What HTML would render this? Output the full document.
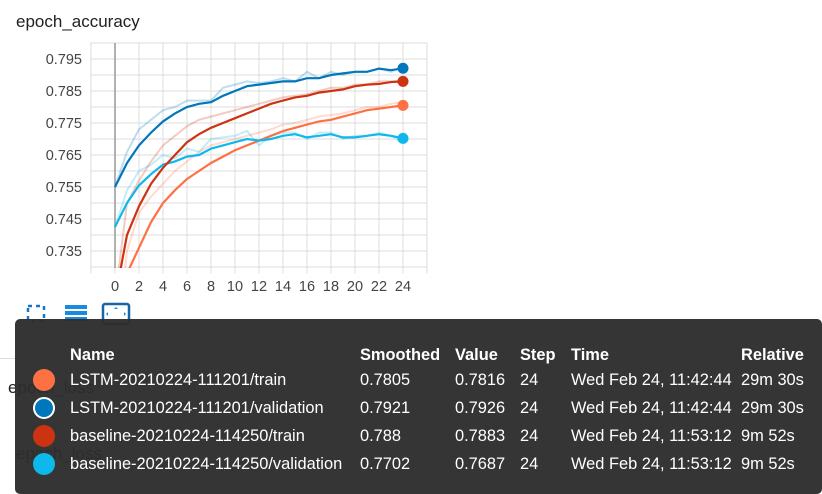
<!DOCTYPE html>
<html><head><meta charset="utf-8"><style>
body{margin:0;width:822px;height:488px;overflow:hidden;background:#fff;font-family:"Liberation Sans",sans-serif;position:relative}
.abs{position:absolute}
#tip{position:absolute;left:15px;top:319px;width:807px;height:175px;background:rgba(45,45,45,0.96);border-radius:5px;color:#fff;font-size:16.4px}
#tip div{position:absolute;white-space:nowrap}
.h{font-weight:bold}
.dot{width:22px;height:22px;border-radius:50%}
</style></head><body>
<div class="abs" style="left:16px;top:12px;font-size:17px;color:#212121">epoch_accuracy</div>
<div class="abs" style="left:0;top:358px;width:822px;height:1px;background:#ddd"></div>
<div class="abs" style="left:8px;top:378px;font-size:17px;color:#212121">epoch_loss</div>
<div class="abs" style="left:16px;top:444px;font-size:17px;color:#212121">epoch_loss</div>
<svg class="abs" style="left:0;top:0" width="822" height="330">
<g id="grid"></g><g id="ticks"></g>
<clipPath id="cp"><rect x="90" y="43" width="337" height="225"/></clipPath>
<g id="lines" clip-path="url(#cp)"></g><g id="dots"></g>
<g fill="none" stroke="#1a73c8" stroke-width="2.5" stroke-dasharray="4 4">
<rect x="28" y="306" width="16" height="15"/></g>
<g fill="#1a8ae0"><rect x="65" y="305" width="22" height="4"/><rect x="65" y="311" width="22" height="4"/><rect x="65" y="317" width="22" height="4"/></g>
<g><rect x="103" y="304" width="26" height="20" rx="2" fill="none" stroke="#1566a8" stroke-width="2.5"/><path d="M116 307l-2 2h4zM116 321l-2-2h4zM106 314l2-2v4zM126 314l-2-2v4z" fill="#1a8ae0"/></g>
</svg>
<div id="tip">
<div class="h" style="left:55px;top:27px">Name</div><div class="h" style="left:345px;top:27px">Smoothed</div><div class="h" style="left:440px;top:27px">Value</div><div class="h" style="left:505px;top:27px">Step</div><div class="h" style="left:556px;top:27px">Time</div><div class="h" style="left:726px;top:27px">Relative</div>
<div class="dot" style="left:18px;top:50px;background:#ff7043"></div>
<div style="left:55px;top:52px">LSTM-20210224-111201/train</div><div style="left:345px;top:52px">0.7805</div><div style="left:440px;top:52px">0.7816</div><div style="left:505px;top:52px">24</div><div style="left:556px;top:52px">Wed Feb 24, 11:42:44</div><div style="left:726px;top:52px">29m 30s</div>
<div class="dot" style="left:18px;top:78px;background:#0077bb;box-sizing:border-box;border:2px solid #fff"></div>
<div style="left:55px;top:80px">LSTM-20210224-111201/validation</div><div style="left:345px;top:80px">0.7921</div><div style="left:440px;top:80px">0.7926</div><div style="left:505px;top:80px">24</div><div style="left:556px;top:80px">Wed Feb 24, 11:42:44</div><div style="left:726px;top:80px">29m 30s</div>
<div class="dot" style="left:18px;top:106px;background:#cc3311"></div>
<div style="left:55px;top:108px">baseline-20210224-114250/train</div><div style="left:345px;top:108px">0.788</div><div style="left:440px;top:108px">0.7883</div><div style="left:505px;top:108px">24</div><div style="left:556px;top:108px">Wed Feb 24, 11:53:12</div><div style="left:726px;top:108px">9m 52s</div>
<div class="dot" style="left:18px;top:134px;background:#0fb8ea"></div>
<div style="left:55px;top:136px">baseline-20210224-114250/validation</div><div style="left:345px;top:136px">0.7702</div><div style="left:440px;top:136px">0.7687</div><div style="left:505px;top:136px">24</div><div style="left:556px;top:136px">Wed Feb 24, 11:53:12</div><div style="left:726px;top:136px">9m 52s</div>
</div>
<script>
const epochs=[...Array(25).keys()];
const yTicks=[0.735,0.745,0.755,0.765,0.775,0.785,0.795];
const xTicks=[0,2,4,6,8,10,12,14,16,18,20,22,24];
const lstmValSmooth=[0.755,0.7625,0.768,0.772,0.7755,0.778,0.780,0.781,0.7815,0.7835,0.785,0.7865,0.787,0.7875,0.788,0.788,0.789,0.789,0.790,0.7905,0.791,0.791,0.792,0.7915,0.7921];
const lstmValRaw=[0.755,0.766,0.773,0.776,0.779,0.780,0.782,0.782,0.782,0.786,0.787,0.788,0.7875,0.788,0.789,0.788,0.791,0.789,0.791,0.790,0.791,0.791,0.792,0.791,0.7926];
const baseTrainSmooth=[0.72,0.740,0.749,0.756,0.761,0.765,0.769,0.7715,0.7735,0.775,0.7765,0.778,0.7795,0.781,0.782,0.783,0.7835,0.7845,0.785,0.7855,0.7865,0.787,0.7872,0.7878,0.788];
const baseTrainRaw=[0.72,0.750,0.757,0.763,0.768,0.771,0.774,0.776,0.777,0.778,0.779,0.780,0.781,0.782,0.783,0.7835,0.784,0.785,0.786,0.786,0.787,0.787,0.788,0.788,0.7883];
const lstmTrainSmooth=[0.70,0.728,0.736,0.744,0.750,0.754,0.7575,0.760,0.7625,0.7645,0.7665,0.768,0.7695,0.771,0.7725,0.7735,0.7745,0.7755,0.776,0.777,0.778,0.779,0.7795,0.780,0.7805];
const lstmTrainRaw=[0.70,0.735,0.747,0.752,0.756,0.760,0.763,0.766,0.768,0.769,0.770,0.771,0.772,0.773,0.7745,0.775,0.776,0.777,0.7775,0.778,0.779,0.780,0.780,0.781,0.7816];
const baseValSmooth=[0.7425,0.750,0.7555,0.759,0.762,0.763,0.7645,0.765,0.767,0.768,0.769,0.770,0.7695,0.770,0.771,0.7715,0.7705,0.771,0.7715,0.7705,0.7705,0.771,0.7715,0.771,0.7702];
const baseValRaw=[0.7425,0.754,0.760,0.762,0.765,0.764,0.767,0.766,0.770,0.7705,0.771,0.7725,0.768,0.771,0.772,0.772,0.770,0.772,0.772,0.770,0.771,0.771,0.772,0.771,0.7687];
const X=e=>115+e*12, Y=v=>59+(0.795-v)*3200;
const NS='http://www.w3.org/2000/svg';
function mk(t,a,p){const el=document.createElementNS(NS,t);for(const k in a)el.setAttribute(k,a[k]);p.appendChild(el);return el;}
const grid=document.getElementById('grid'),ticks=document.getElementById('ticks'),lines=document.getElementById('lines'),dots=document.getElementById('dots');
for(let v=0.730;v<=0.8001;v+=0.005){const l=mk('line',{x1:90,x2:427,y1:Y(v),y2:Y(v),stroke:'#ddd','stroke-width':1},grid);}
for(let e=-2;e<=26;e+=2){const l=mk('line',{x1:X(e),x2:X(e),y1:43,y2:273,stroke:'#ddd','stroke-width':1},grid);}
mk('line',{x1:115,x2:115,y1:43,y2:268,stroke:'#999','stroke-width':1.5},grid);
yTicks.forEach(v=>{const t=mk('text',{x:82,y:Y(v)+5,'text-anchor':'end','font-size':14.5,fill:'#444','font-family':'Liberation Sans'},ticks);t.textContent=v.toFixed(3);});
xTicks.forEach(e=>{const t=mk('text',{x:X(e),y:291,'text-anchor':'middle','font-size':14.5,fill:'#444','font-family':'Liberation Sans'},ticks);t.textContent=e;});
const series=[['lstm-train',lstmTrainRaw,lstmTrainSmooth,'#ff7043'],['baseline-validation',baseValRaw,baseValSmooth,'#0fb8ea'],['baseline-train',baseTrainRaw,baseTrainSmooth,'#cc3311'],['lstm-validation',lstmValRaw,lstmValSmooth,'#0077bb']];
const pts=a=>a.map((v,i)=>X(epochs[i])+','+Y(v)).join(' ');
series.forEach(([n,r,s,c])=>{const a=mk('polyline',{points:pts(r),fill:'none',stroke:c,'stroke-opacity':0.25,'stroke-width':2},lines);});
series.forEach(([n,r,s,c])=>{const a=mk('polyline',{points:pts(s),fill:'none',stroke:c,'stroke-width':2.2},lines);
const d=mk('circle',{cx:X(24),cy:Y(s[24]),r:5.5,fill:c},dots);});
</script>
</body></html>
